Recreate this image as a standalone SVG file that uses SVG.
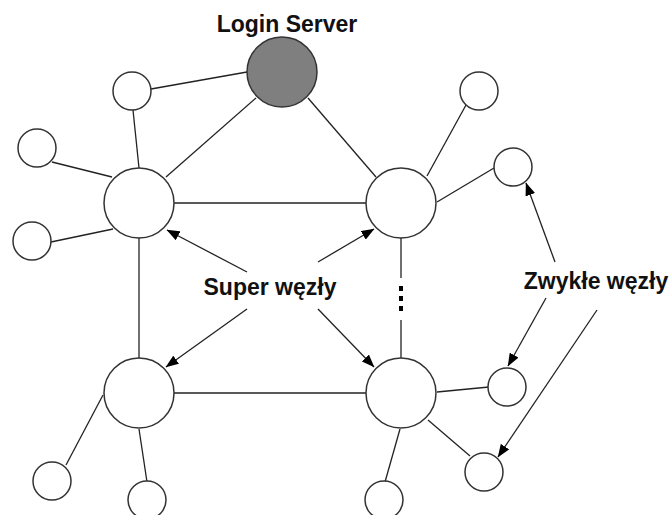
<svg xmlns="http://www.w3.org/2000/svg" width="672" height="515" viewBox="0 0 672 515">
<style>
.n{fill:#fff;stroke:#333;stroke-width:1.5}
.srv{fill:#7f7f7f;stroke:#333;stroke-width:1.5}
.e{stroke:#222;stroke-width:1.3;fill:none}
.a{stroke:#222;stroke-width:1.3;fill:none;marker-end:url(#ah)}
.t{font-family:"Liberation Sans",Arial,sans-serif;font-weight:bold;font-size:23px;fill:#111;text-anchor:middle}
</style>
<defs>
<marker id="ah" markerUnits="userSpaceOnUse" markerWidth="13" markerHeight="10" viewBox="0 0 13 10" refX="12.5" refY="5" orient="auto">
<path d="M0,0 L13,5 L0,10 Z" fill="#000"/>
</marker>
</defs>
<rect width="672" height="515" fill="#fff"/>
<g id="connectors">
<line class="e" x1="247" y1="72" x2="151" y2="89"/>
<line class="e" x1="256" y1="98" x2="166" y2="177"/>
<line class="e" x1="308" y1="98" x2="376" y2="177"/>
<line class="e" x1="133" y1="110" x2="139" y2="168"/>
<line class="e" x1="52" y1="162" x2="112" y2="177"/>
<line class="e" x1="51" y1="242" x2="113" y2="229"/>
<line class="e" x1="174" y1="203" x2="366" y2="203"/>
<line class="e" x1="139" y1="238" x2="139" y2="358"/>
<line class="e" x1="174" y1="393" x2="366" y2="393"/>
<line class="e" x1="427" y1="176" x2="466" y2="105"/>
<line class="e" x1="437" y1="202" x2="494" y2="168"/>
<line class="e" x1="401" y1="238" x2="401" y2="278"/>
<rect x="399" y="286" width="4" height="5" fill="#000"/>
<rect x="399" y="296" width="4" height="5" fill="#000"/>
<rect x="399" y="306" width="4" height="5" fill="#000"/>
<line class="e" x1="401" y1="320" x2="401" y2="358"/>
<line class="e" x1="437" y1="392" x2="489" y2="387"/>
<line class="e" x1="428" y1="420" x2="470" y2="456"/>
<line class="e" x1="400" y1="429" x2="385" y2="482"/>
<line class="e" x1="103" y1="395" x2="66" y2="465"/>
<line class="e" x1="139" y1="429" x2="147" y2="482"/>
<line class="a" x1="247" y1="272" x2="167" y2="230"/>
<line class="a" x1="318" y1="262" x2="374" y2="229"/>
<line class="a" x1="247" y1="309" x2="166" y2="367"/>
<line class="a" x1="318" y1="309" x2="374" y2="367"/>
<line class="a" x1="555" y1="262" x2="526" y2="183"/>
<line class="a" x1="546" y1="298" x2="508" y2="366"/>
<line class="a" x1="597" y1="310" x2="498" y2="457"/>
</g>
<g id="login-server"><circle class="srv" cx="282" cy="72" r="35"/></g>
<g id="super-tl"><circle class="n" cx="139" cy="203" r="35"/></g>
<g id="super-tr"><circle class="n" cx="401" cy="203" r="35"/></g>
<g id="super-bl"><circle class="n" cx="139" cy="393" r="35"/></g>
<g id="super-br"><circle class="n" cx="401" cy="393" r="35"/></g>
<g id="node-1"><circle class="n" cx="132" cy="91" r="19"/></g>
<g id="node-2"><circle class="n" cx="37" cy="148" r="19"/></g>
<g id="node-3"><circle class="n" cx="32" cy="241" r="19"/></g>
<g id="node-4"><circle class="n" cx="479" cy="91" r="19"/></g>
<g id="node-5"><circle class="n" cx="513" cy="167" r="19"/></g>
<g id="node-6"><circle class="n" cx="52" cy="481" r="19"/></g>
<g id="node-7"><circle class="n" cx="147" cy="500" r="19"/></g>
<g id="node-8"><circle class="n" cx="507" cy="387" r="19"/></g>
<g id="node-9"><circle class="n" cx="484" cy="472" r="19"/></g>
<g id="node-10"><circle class="n" cx="384" cy="500" r="19"/></g>
<g id="labels">
<text class="t" x="287" y="32">Login Server</text>
<text class="t" x="270" y="295">Super węzły</text>
<text class="t" x="596" y="289">Zwykłe węzły</text>
</g>
</svg>
